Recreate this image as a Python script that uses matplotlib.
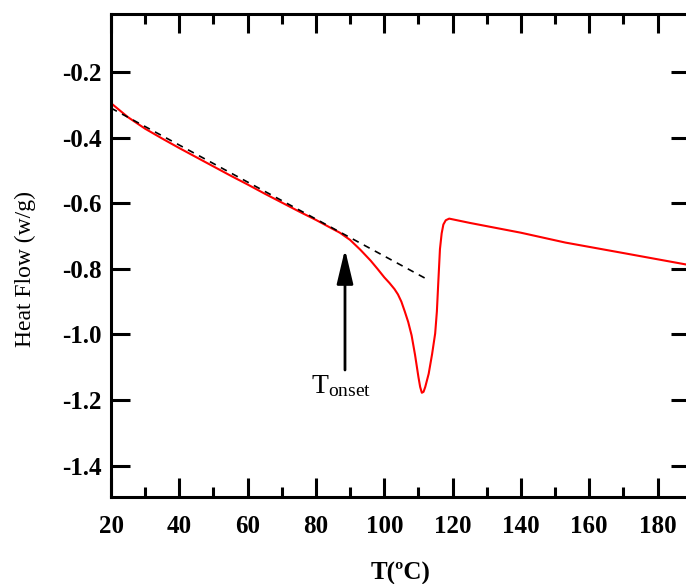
import matplotlib
matplotlib.use("Agg")
import matplotlib.pyplot as plt
from matplotlib.ticker import MultipleLocator

plt.rcParams["font.family"] = "Liberation Serif"
plt.rcParams["axes.unicode_minus"] = False
plt.rcParams["mathtext.fontset"] = "custom"
plt.rcParams["mathtext.rm"] = "Liberation Serif"

# DSC heating curve
temp = [20, 25, 30, 35, 40, 45, 50, 55, 60, 65, 70, 75, 80, 85, 87,
        90, 93, 96, 98, 100, 101.5, 103, 104, 105, 106, 107, 108, 109,
        110, 110.5, 111, 111.5, 112, 113, 114, 114.9, 115.4, 115.8,
        116.3, 116.8, 117.3, 118, 119, 125, 140, 153, 170, 189.5]
heat_flow = [-0.295, -0.338, -0.373, -0.403, -0.432, -0.460, -0.488, -0.516,
             -0.543, -0.571, -0.598, -0.625, -0.651, -0.679, -0.690,
             -0.712, -0.742, -0.775, -0.800, -0.826, -0.843, -0.862,
             -0.878, -0.900, -0.930, -0.962, -1.003, -1.062, -1.130,
             -1.160, -1.178, -1.175, -1.160, -1.120, -1.060, -0.997,
             -0.930, -0.844, -0.740, -0.692, -0.665, -0.652, -0.647,
             -0.660, -0.690, -0.720, -0.752, -0.789]

# baseline tangent (dashed)
tangent_t = [20, 112.9]
tangent_hf = [-0.31, -0.834]

# onset arrow
onset_t = 88.5
arrow_tip = -0.7405
arrow_tail = -1.1085

fig = plt.figure(figsize=(6.86, 5.84), dpi=100)
ax = fig.add_axes([111 / 686, 87 / 584, 579 / 686, 483 / 584])

ax.plot(temp, heat_flow, color="red", lw=1.5)
ax.plot(tangent_t, tangent_hf, color="black", lw=1.2, linestyle=(0, (4, 3.5)))

ax.annotate("", xy=(onset_t, arrow_tip), xytext=(onset_t, arrow_tail),
            arrowprops=dict(arrowstyle="-|>,head_length=2.1,head_width=0.5",
                            mutation_scale=10, color="black", lw=2,
                            shrinkA=0, shrinkB=0))
ax.text(78.5, -1.1796, r"$\mathrm{T_{onset}}$", fontsize=20,
        ha="left", va="baseline")

ax.set_xlim(20, 189.5)
ax.set_ylim(-1.4957, -0.0232)
ax.xaxis.set_major_locator(MultipleLocator(20))
ax.xaxis.set_minor_locator(MultipleLocator(10))
ax.set_yticks([-1.4, -1.2, -1.0, -0.8, -0.6, -0.4, -0.2])
ax.set_yticklabels(["-1.4", "-1.2", "-1.0", "-0.8", "-0.6", "-0.4", "-0.2"])

ax.tick_params(which="major", direction="in", length=14, width=2.2,
               top=True, right=True, labelsize=18)
ax.tick_params(which="minor", direction="in", length=7, width=2.2,
               top=True, right=False, left=False)
ax.tick_params(axis="x", pad=13)
ax.tick_params(axis="y", pad=7)
for lab in ax.get_xticklabels() + ax.get_yticklabels():
    lab.set_fontweight("bold")
for sp in ax.spines.values():
    sp.set_linewidth(2.2)

ax.set_xlabel("T(ºC)", fontsize=18, fontweight="bold")
ax.set_ylabel("Heat Flow (w/g)", fontsize=17)
ax.xaxis.set_label_coords(0.5, -0.135)
ax.yaxis.set_label_coords(-0.13, 0.472)

fig.savefig("out.png", dpi=100)
